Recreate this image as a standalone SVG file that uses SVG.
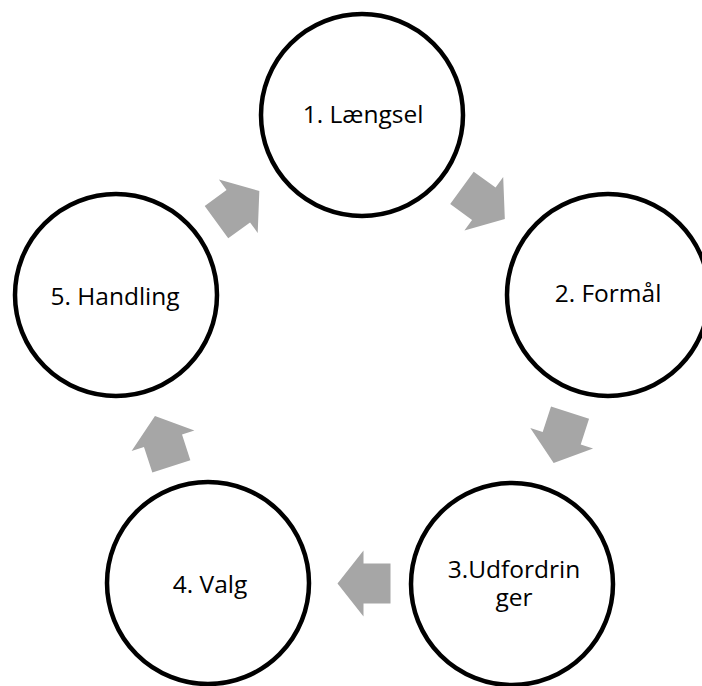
<svg xmlns="http://www.w3.org/2000/svg" width="702" height="686" viewBox="0 0 702 686">
<defs>
<style>
.node circle{fill:#ffffff;stroke:#000000;stroke-width:4.5}
.node text{font-family:"Open Sans","Noto Sans","Liberation Sans",sans-serif;font-size:24.5px;fill:#000000;text-anchor:middle}
.arrow{fill:#a6a6a6;stroke:none}
</style>
<path id="blk" d="M -27,-20 L 0,-20 L 0,-33 L 26,0 L 0,33 L 0,20 L -27,20 Z"/>
</defs>
<rect width="702" height="686" fill="#ffffff"/>
<g id="connectors">
<use href="#blk" class="arrow" transform="translate(238.3,206.2) rotate(-36)"/>
<use href="#blk" class="arrow" transform="translate(483.8,203.8) rotate(36)"/>
<use href="#blk" class="arrow" transform="translate(561.7,438.3) rotate(108)"/>
<use href="#blk" class="arrow" transform="translate(363.5,583.5) rotate(180)"/>
<use href="#blk" class="arrow" transform="translate(163,440.7) rotate(-108)"/>
</g>
<g id="node1" class="node">
<circle cx="362" cy="115" r="101"/>
<text x="363" y="123">1. Længsel</text>
</g>
<g id="node2" class="node">
<circle cx="608" cy="295" r="101"/>
<text x="608" y="302">2. Formål</text>
</g>
<g id="node3" class="node">
<circle cx="512" cy="584" r="101"/>
<text x="514" y="578">3.Udfordrin</text>
<text x="514" y="606">ger</text>
</g>
<g id="node4" class="node">
<circle cx="208" cy="583" r="101"/>
<text x="210" y="593">4. Valg</text>
</g>
<g id="node5" class="node">
<circle cx="116" cy="295" r="101"/>
<text x="115" y="305">5. Handling</text>
</g>
</svg>
